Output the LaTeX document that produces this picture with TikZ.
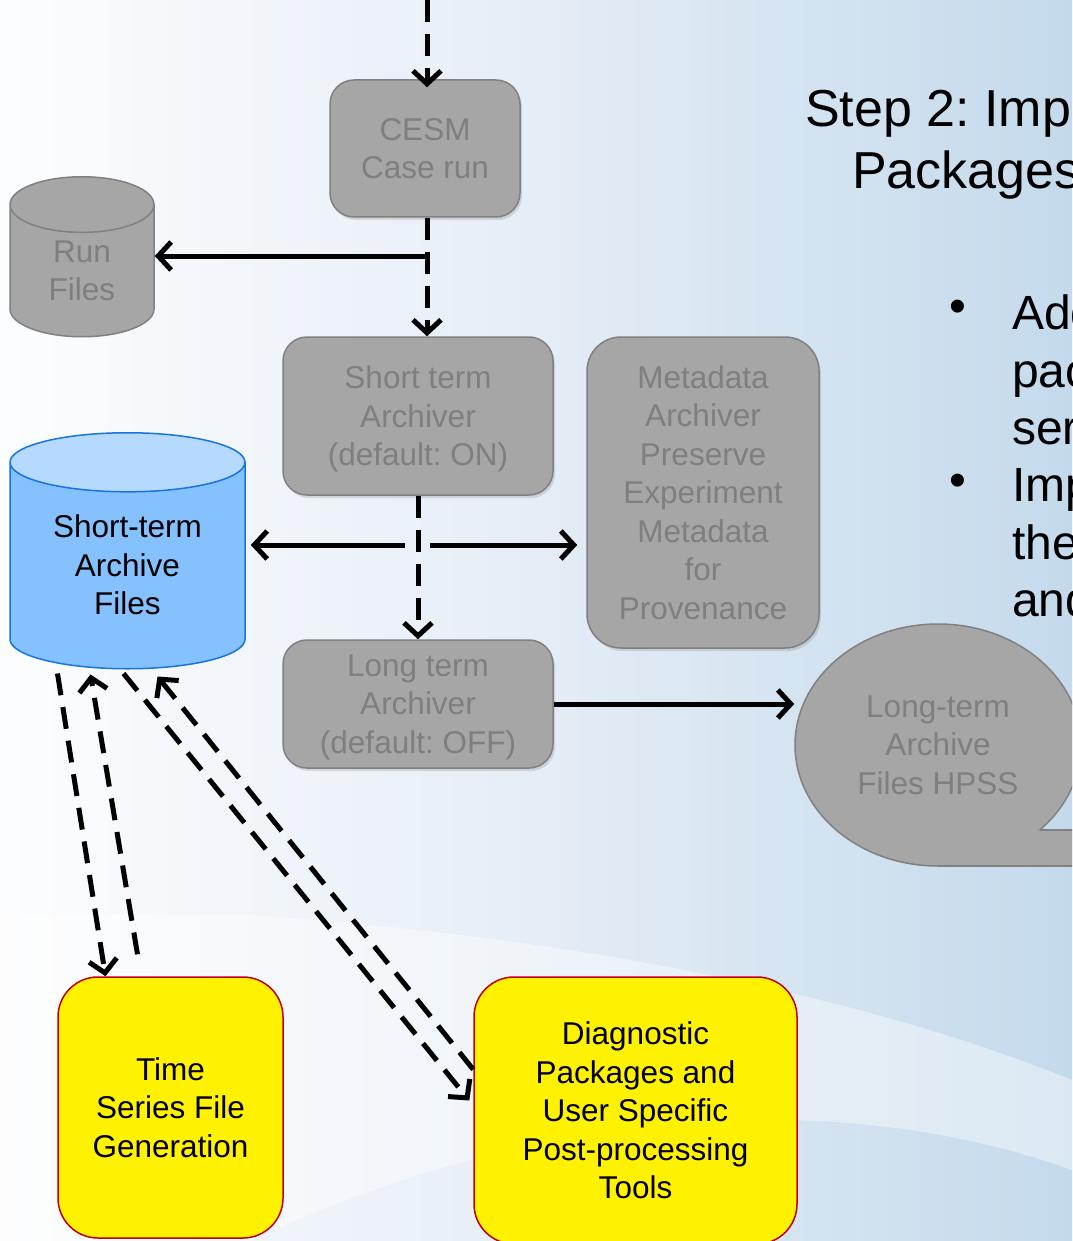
\documentclass[tikz,border=0pt]{standalone}
\usepackage{fontspec}
\setmainfont{Liberation Sans}
\frenchspacing
\usetikzlibrary{arrows.meta,shapes.geometric,shadows}

\definecolor{boxgrey}{RGB}{166,166,166}
\definecolor{boxedge}{RGB}{128,128,128}
\definecolor{greytext}{RGB}{127,127,127}
\definecolor{cylblue}{RGB}{133,193,255}
\definecolor{cyltop}{RGB}{181,217,255}
\definecolor{cyledge}{RGB}{24,116,224}
\definecolor{tooledge}{RGB}{192,0,0}
\definecolor{bgmid}{RGB}{229,237,246}
\definecolor{bglight}{RGB}{196,218,236}
\definecolor{bgblue}{RGB}{140,181,215}

\pgfdeclarehorizontalshading{slidebg}{100bp}{color(0bp)=(white); color(22bp)=(white); color(50bp)=(bgmid); color(75bp)=(bglight); color(100bp)=(bgblue)}

\begin{document}
\begin{tikzpicture}[x=1pt,y=-1pt,
    greybox/.style = {draw=boxedge, fill=boxgrey, text=greytext, line width=1.5pt, rounded corners=24pt, align=center, font=\fontsize{31.5}{38.5}\selectfont, drop shadow={shadow xshift=2pt,shadow yshift=-3pt,opacity=0.25}},
    toolbox/.style = {draw=tooledge, fill=yellow, line width=1.5pt, rounded corners=40pt, align=center, font=\fontsize{31.5}{38.5}\selectfont},
    store/.style = {cylinder, shape border rotate=90, cylinder uses custom fill, line width=1.5pt, text depth=9pt, align=center, font=\fontsize{31.5}{38.5}\selectfont},
    slide/.style = {inner sep=0pt},
    flow/.style = {line width=5pt, -{Straight Barb[length=13pt,width=28pt]}},
    dflow/.style = {flow, dash pattern=on 22pt off 12pt}]
    \useasboundingbox (0,0) rectangle (1072,1241);
    \clip (0,0) rectangle (1072,1241);
    % slide background
    \shade[shading=slidebg] (0,0) rectangle (1072,1241);
    \fill[white, opacity=0.4] (250,915) .. controls (550,935) and (850,990) .. (1072,1080) -- (1072,1170) .. controls (850,1090) and (550,1100) .. (250,1241) -- (0,1241) -- (0,915) -- cycle;

    % title and bullets
    \node[slide, anchor=base west, font=\fontsize{52}{62}\selectfont] (title) at (805,127) {Step 2: Imp};
    \node[slide, anchor=base west, font=\fontsize{52}{62}\selectfont] (title2) at (852,189) {Packages};
    \node[slide, font=\fontsize{48}{57.6}\selectfont] (dot1) at (958,311) {\textbullet};
    \node[slide, anchor=west, align=left, font=\fontsize{48}{57.6}\selectfont] (pts1) at (1012,370) {Add\\pac\\ser};
    \node[slide, font=\fontsize{48}{57.6}\selectfont] (dot2) at (958,485) {\textbullet};
    \node[slide, anchor=west, align=left, font=\fontsize{48}{57.6}\selectfont] (pts2) at (1012,543) {Imp\\the\\and};

    % archiving steps
    \node[greybox, minimum width=190pt, minimum height=137pt] (cesm) at (425,148.5) {CESM\\Case run};
    \node[greybox, text depth=0pt, minimum width=270pt, minimum height=158pt] (starch) at (418,416) {Short term\\Archiver\\(default: ON)};
    \node[greybox, rounded corners=34pt, minimum width=232pt, minimum height=311pt] (meta) at (703,492.5) {Metadata\\Archiver\\Preserve\\Experiment\\Metadata\\for\\Provenance};
    \node[greybox, text depth=0pt, minimum width=270pt, minimum height=128pt] (ltarch) at (418,704) {Long term\\Archiver\\(default: OFF)};

    % file stores
    \node[store, anchor=north, draw=boxedge, cylinder body fill=boxgrey, cylinder end fill=boxgrey, text=greytext, minimum width=144pt, minimum height=160pt, aspect=0.76] (runfiles) at (82,176) {Run\\Files};
    \node[store, anchor=north, draw=cyledge, cylinder body fill=cylblue, cylinder end fill=cyltop, minimum width=235pt, minimum height=236pt, aspect=0.38] (stfiles) at (127.5,432) {Short-term\\Archive\\Files};
    \node[ellipse, draw=boxedge, fill=boxgrey, text=greytext, line width=1.5pt, minimum width=286pt, minimum height=242pt, inner sep=0pt, align=center, font=\fontsize{31.5}{38.5}\selectfont] (hpss) at (938,745) {Long-term\\Archive\\Files HPSS};
    \fill[boxgrey] (1040,830) -- (1090,830) -- (1090,866) -- (938,866) -- cycle;
    \draw[boxedge, line width=1.5pt] (1040,830) -- (1090,830) (938,866) -- (1090,866);

    % tools
    \node[toolbox, minimum width=225pt, minimum height=261pt] (tseries) at (170.5,1107.5) {Time\\Series File\\Generation};
    \node[toolbox, minimum width=323pt, minimum height=267pt] (diag) at (635.5,1110.5) {Diagnostic\\Packages and\\User Specific\\Post-processing\\Tools};

    \coordinate (feed) at (427,0);
    \coordinate (runsplit) at (427,256);
    \coordinate (lsplit) at (405,545);
    \coordinate (rsplit) at (430,545);

    \draw[dflow, shorten >=-8pt] (feed) -- (feed |- cesm.north);
    \draw[dflow] (feed |- cesm.south) -- (feed |- starch.north);
    \draw[flow] (runsplit) -- (runfiles.east |- runsplit);
    \draw[dflow] (starch.south) -- (ltarch.north);
    \draw[flow, shorten >=5pt] (lsplit) -- (stfiles.east |- lsplit);
    \draw[flow, shorten >=9pt] (rsplit) -- (meta.west |- rsplit);
    \draw[flow] (ltarch.east) -- (ltarch.east -| hpss.west);

    \draw[dflow] ([xshift=-70pt,yshift=-4pt]stfiles.south) -- ([xshift=-65pt]tseries.north);
    \draw[dflow] ([xshift=-33pt,yshift=22pt]tseries.north) -- ([xshift=-37pt,yshift=-5pt]stfiles.south);
    \draw[dflow] ([xshift=-4pt,yshift=-4pt]stfiles.south) -- ([xshift=-4pt,yshift=10pt]diag.west);
    \draw[dflow] ([yshift=41pt]diag.west) -- ([xshift=30pt,yshift=-7pt]stfiles.south);
\end{tikzpicture}
\end{document}
